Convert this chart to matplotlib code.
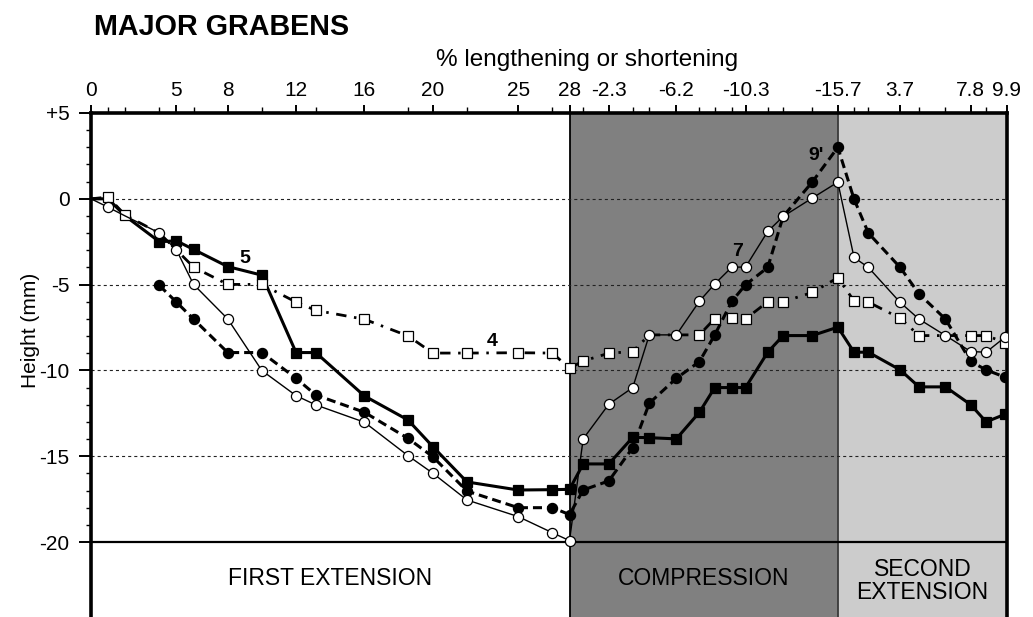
import numpy as np
import matplotlib
matplotlib.use("Agg")
import matplotlib.pyplot as plt
from matplotlib.ticker import FixedLocator, NullFormatter

plt.rcParams['font.family'] = ['Liberation Sans', 'DejaVu Sans']
plt.rcParams['axes.unicode_minus'] = False
plt.rcParams['lines.scale_dashes'] = False

# ---------------- data ----------------
# sample positions (cumulative % change along deformation path)
x_pos = [0, 1, 2, 4, 5, 6, 8, 10, 12, 13.15, 16, 18.55, 20, 22, 25, 27, 28,
         28.8, 30.3, 31.7, 32.67, 34.25, 35.6, 36.5, 37.5, 38.3, 39.6, 40.5, 42.2, 43.7,
         44.65, 45.49, 47.35, 48.45, 50.0, 51.48, 52.38, 53.5]

# graben 5 (filled squares)
h5 = [0, 0, -1.0, -2.5, -2.45, -2.95, -3.95, -4.45, -8.96, -8.96, -11.49, -12.89, -14.44, -16.5, -16.97, -16.95, -16.93,
      -15.45, -15.45, -13.9, -13.92, -13.99, -12.44, -11.0, -11.0, -11.0, -8.94, -7.97, -7.97, -7.48,
      -8.94, -8.94, -9.97, -10.96, -10.96, -12.0, -13.0, -12.55]
# graben 7 (open circles)
h7 = [0, -0.49, -1.0, -1.99, -2.98, -4.99, -7.0, -10.01, -11.47, -12.01, -13.02, -14.97, -15.99, -17.55, -18.52, -19.46, -19.92,
      -13.99, -11.97, -11.0, -7.93, -7.93, -5.97, -4.96, -3.98, -3.98, -1.9, -1.03, 0.04, 0.97,
      -3.42, -4.0, -6.04, -7.01, -7.97, -8.9, -8.94, -8.05]
# graben 9' (filled circles)
h9 = [np.nan, np.nan, np.nan, -5.05, -6.02, -7.01, -8.96, -8.96, -10.46, -11.43, -12.44, -13.96, -15.03, -17.03, -18.0, -18.0, -18.4,
      -16.97, -16.44, -14.5, -11.91, -10.46, -9.49, -7.93, -5.97, -5.01, -4.0, -1.03, 0.97, 3.0,
      -0.02, -2.0, -4.0, -5.54, -7.01, -9.48, -9.97, -10.4]
# graben 4 (open squares)
h4 = [0, 0.1, -0.95, -2.0, -2.98, -3.98, -4.99, -4.99, -6.02, -6.5, -7.02, -7.99, -8.99, -8.99, -8.97, -8.99, -9.88,
      -9.45, -9.0, -8.9, -7.93, -7.93, -7.93, -6.98, -6.97, -7.0, -6.0, -6.0, -5.46, -4.6,
      -5.95, -6.02, -6.96, -7.97, -7.97, -7.97, -7.97, -8.38]

top_tick_pos = [0, 5, 8, 12, 16, 20, 25, 28, 30.3, 34.25, 38.3, 43.7, 47.35, 51.48, 53.6]
top_tick_labels = ['0', '5', '8', '12', '16', '20', '25', '28', '-2.3', '-6.2', '-10.3', '-15.7', '3.7', '7.8', '9.9']
y_major = [5, 0, -5, -10, -15, -20]
y_labels = ['+5', '0', '-5', '-10', '-15', '-20']
phases = ['FIRST EXTENSION', 'COMPRESSION', 'SECOND\nEXTENSION']
phase_bounds = [0, 28, 43.7, 53.6]

# ---------------- figure ----------------
W, H = 1033, 617
fig = plt.figure(figsize=(W / 100, H / 100), dpi=100)
ax = fig.add_axes([91 / W, 0, (1007 - 91) / W, (H - 113) / H])
ax.set_xlim(0, 53.6)
ax.set_ylim(-24.37, 5)

# phase shading
ax.axvspan(phase_bounds[1], phase_bounds[2], color='#808080', lw=0, zorder=0)
ax.axvspan(phase_bounds[2], phase_bounds[3], color='#cccccc', lw=0, zorder=0)
ax.axvline(phase_bounds[1], color='black', lw=1.3, zorder=1)
ax.axvline(phase_bounds[2], color='#3a3a3a', lw=1.3, zorder=1)

# reference lines
for yv in [0, -5, -10, -15]:
    ax.axhline(yv, color='#222222', lw=0.8, ls=(0, (2.2, 2.2)), zorder=1)
ax.axhline(-20, color='black', lw=1.6, zorder=2)

x = np.array(x_pos)
ms = 7.3
mew = 0.9

def hidden(idx_hide):
    return [i for i in range(len(x)) if i not in idx_hide]

ax.plot(x, h9, color='black', lw=2.2, ls=(0, (6.5, 3.6)), marker='o', ms=ms,
        mfc='black', mec='black', mew=mew, zorder=3)
ax.plot(x, h5, color='black', lw=2.2, ls='-', marker='s', ms=ms - 0.4,
        mfc='black', mec='black', mew=mew, markevery=hidden([0, 1, 2]), zorder=4)
ax.plot(x, h4, color='black', lw=2.0, ls=(0, (7.5, 5.5, 1.8, 5.5)), marker='s', ms=ms - 0.3,
        mfc='white', mec='black', mew=mew, markevery=hidden([0, 3, 4, 20, 21, 34]), zorder=5)
ax.plot(x, h7, color='black', lw=1.0, ls='-', marker='o', ms=ms,
        mfc='white', mec='black', mew=mew, markevery=hidden([0, 2]), zorder=6)

# series labels
lab_kw = dict(fontsize=14, fontweight='bold', ha='center', va='center', zorder=7)
ax.text(9.0, -3.46, '5', **lab_kw)
ax.text(23.48, -8.32, '4', **lab_kw)
ax.text(37.83, -3.07, '7', **lab_kw)
ax.text(42.41, 2.52, "9'", **lab_kw)

# phase labels
ax.text((phase_bounds[0] + phase_bounds[1]) / 2, -22.1, phases[0], fontsize=16.5, ha='center', va='center')
ax.text((phase_bounds[1] + phase_bounds[2]) / 2, -22.1, phases[1], fontsize=16.5, ha='center', va='center')
ax.text((phase_bounds[2] + phase_bounds[3]) / 2, -22.3, phases[2], fontsize=16.5, ha='center', va='center',
        linespacing=1.0)

# spines
for s in ['left', 'top', 'right']:
    ax.spines[s].set_linewidth(2.6)
ax.spines['bottom'].set_visible(False)

# top x axis
ax.xaxis.tick_top()
ax.xaxis.set_major_locator(FixedLocator(top_tick_pos))
ax.set_xticklabels(top_tick_labels)
minor_x = [v for v in x_pos if min(abs(v - t) for t in top_tick_pos) > 0.2]
ax.xaxis.set_minor_locator(FixedLocator(minor_x))
ax.tick_params(axis='x', which='major', direction='out', length=6, width=1.4, pad=3,
               labelsize=15, top=True, bottom=False)
ax.tick_params(axis='x', which='minor', direction='out', length=4.3, width=1.0, top=True, bottom=False)

# y axis
ax.yaxis.set_major_locator(FixedLocator(y_major))
ax.set_yticklabels(y_labels)
ax.yaxis.set_minor_locator(FixedLocator(list(range(-20, 6))))
ax.yaxis.set_minor_formatter(NullFormatter())
ax.tick_params(axis='y', which='major', direction='out', length=8.5, width=1.4, pad=7, labelsize=15)
ax.tick_params(axis='y', which='minor', direction='out', length=3.6, width=1.0)

fig.text(587.5 / W, 1 - 60 / H, '% lengthening or shortening', fontsize=17.5, ha='center', va='center')
fig.text(30 / W, 1 - 330 / H, 'Height (mm)', fontsize=15, rotation=90, ha='center', va='center')
fig.text(94 / W, 1 - 27 / H, 'MAJOR GRABENS', fontsize=20.7, fontweight='bold', ha='left', va='center')

fig.savefig('out.png', dpi=100)
